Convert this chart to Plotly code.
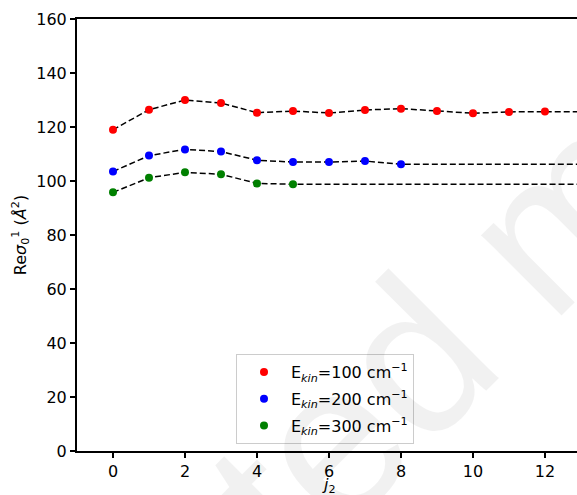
import plotly.graph_objects as go

j_red = [0, 1, 2, 3, 4, 5, 6, 7, 8, 9, 10, 11, 12]
sig_red = [119.0, 126.4, 130.0, 128.9, 125.3, 125.9, 125.2, 126.3, 126.8, 125.9, 125.1, 125.6, 125.7]
j_blue = [0, 1, 2, 3, 4, 5, 6, 7, 8]
sig_blue = [103.5, 109.4, 111.7, 110.9, 107.7, 107.0, 107.0, 107.4, 106.2]
j_green = [0, 1, 2, 3, 4, 5]
sig_green = [95.8, 101.2, 103.2, 102.5, 99.1, 98.8]
labels = ["E<sub><i>kin</i></sub>=100 cm<sup>−1</sup>",
          "E<sub><i>kin</i></sub>=200 cm<sup>−1</sup>",
          "E<sub><i>kin</i></sub>=300 cm<sup>−1</sup>"]
colors = ["#ff0000", "#0000ff", "#008000"]
x_ticks = [0, 2, 4, 6, 8, 10, 12]
y_ticks = [0, 20, 40, 60, 80, 100, 120, 140, 160]

X_MIN, X_MAX = -1.0, 12.89
X_EXT = 16

font = "DejaVu Sans"
fig = go.Figure()
series = [(j_red, sig_red), (j_blue, sig_blue), (j_green, sig_green)]
# dashed connecting lines (extended at last value)
for xs, ys in series:
    fig.add_trace(go.Scatter(x=xs + [X_EXT], y=ys + [ys[-1]], mode="lines",
                             line=dict(color="black", width=1.5, dash="6px,3px"),
                             showlegend=False, hoverinfo="skip"))
for i, ((xs, ys), lab, c) in enumerate(zip(series, labels, colors)):
    fig.add_trace(go.Scatter(x=xs, y=ys, mode="markers", name=lab,
                             legendgroup=f"g{i}",
                             marker=dict(color=c, size=8)))

fig.add_annotation(text="Accepted manuscript", xref="paper", yref="paper",
                   x=0.91, y=0.49, xanchor="center", yanchor="middle",
                   showarrow=False, textangle=-45,
                   font=dict(family="Liberation Sans", size=215, color="rgba(0,0,0,0.055)"))
# x-axis title
fig.add_annotation(text="<i>j</i><sub>2</sub>", xref="paper", yref="paper",
                   x=0.504, y=-0.079, xanchor="center", yanchor="middle",
                   showarrow=False, font=dict(family=font, size=16, color="black"))

fig.update_layout(
    width=577, height=495,
    margin=dict(l=77, r=0, t=19, b=44),
    paper_bgcolor="white", plot_bgcolor="white",
    font=dict(family=font, size=16, color="black"),
    showlegend=True,
    legend=dict(x=0.318, y=0.2245, xanchor="left", yanchor="top",
                bgcolor="rgba(255,255,255,0.8)", bordercolor="#cccccc", borderwidth=1,
                traceorder="grouped", tracegroupgap=3, itemwidth=44,
                font=dict(family=font, size=16)),
    xaxis=dict(range=[X_MIN, X_MAX], tickvals=x_ticks, ticks="outside", ticklen=5,
               tickwidth=1.5, tickcolor="black", showline=True, linecolor="black",
               linewidth=2, mirror=True, showgrid=False, zeroline=False, automargin=False),
    yaxis=dict(range=[0, 160], tickvals=y_ticks, ticks="outside", ticklen=5,
               tickwidth=1.5, tickcolor="black", showline=True, linecolor="black",
               linewidth=2, showgrid=False, zeroline=False, automargin=False,
               title=dict(text="Re<i>σ</i><sub>0</sub><sup>1</sup> (<i>Å</i><sup>2</sup>)",
                          standoff=6, font=dict(size=16))),
)
fig.write_html("out.html")
